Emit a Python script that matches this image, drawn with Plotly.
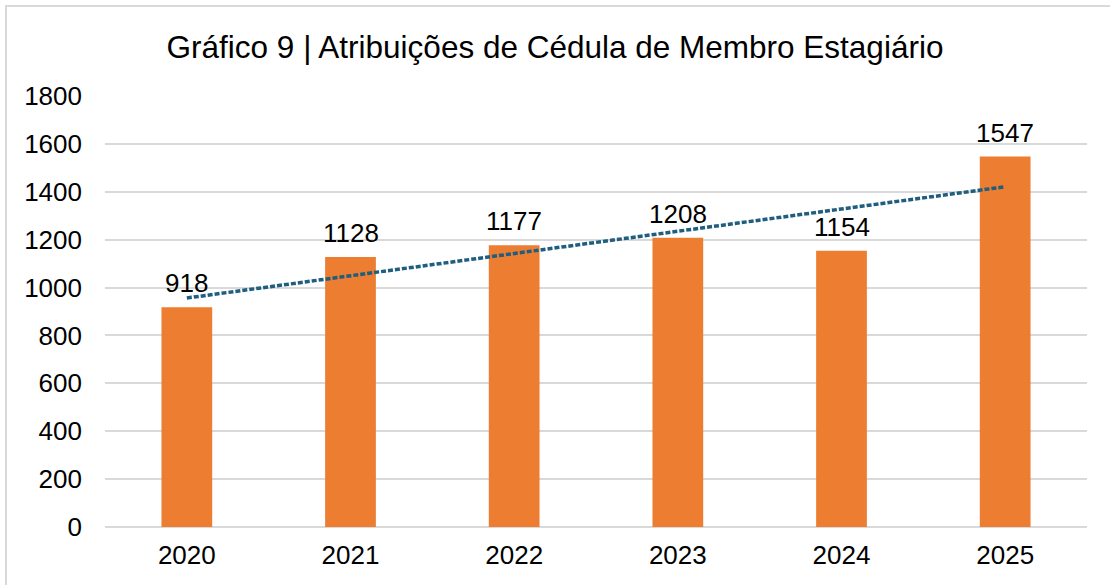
import numpy as np
import plotly.graph_objects as go

years = ["2020", "2021", "2022", "2023", "2024", "2025"]
values = [918, 1128, 1177, 1208, 1154, 1547]
y_ticks = [0, 200, 400, 600, 800, 1000, 1200, 1400, 1600, 1800]
title_text = "Gráfico 9 | Atribuições de Cédula de Membro Estagiário"

# linear trendline (least squares, like Excel)
xi = np.arange(len(values))
slope, intercept = np.polyfit(xi, values, 1)
trend = slope * xi + intercept

FONT = "Liberation Sans, Arial, sans-serif"
FS = 26

fig = go.Figure()
fig.add_trace(go.Bar(
    x=years, y=values,
    marker=dict(color="#ED7D31", line=dict(width=0)),
    width=0.31,
    showlegend=False,
))
fig.add_trace(go.Scatter(
    x=years, y=trend, mode="lines",
    line=dict(color="#1F5E7E", width=3.5, dash="5px,2px"),
    showlegend=False, hoverinfo="skip",
))
# data labels (category index positions on the category axis)
for i, v in enumerate(values):
    fig.add_annotation(x=i, y=v, xref="x", yref="y", text=str(v), showarrow=False,
                       yanchor="middle", yshift=24,
                       font=dict(family=FONT, size=FS, color="#000000"))

fig.update_layout(
    width=1110, height=585,
    margin=dict(l=105, r=23, t=96, b=58),
    paper_bgcolor="white", plot_bgcolor="white",
    title=dict(text=title_text, x=0.5, xanchor="center", y=1 - 47/585, yanchor="middle",
               font=dict(family=FONT, size=31.5, color="#000000")),
    font=dict(family=FONT, color="#000000"),
    xaxis=dict(
        type="category", categoryorder="array", categoryarray=years,
        range=[-0.5, len(years) - 0.5],
        showgrid=False, showline=False, zeroline=False, ticks="",
        tickfont=dict(family=FONT, size=FS, color="#000000"),
        ticklabelstandoff=10,
    ),
    yaxis=dict(
        range=[0, 1800], tickvals=y_ticks, ticktext=[str(t) for t in y_ticks],
        showgrid=True, gridcolor="#D9D9D9", gridwidth=1.5,
        zeroline=True, zerolinecolor="#D9D9D9", zerolinewidth=1.5,
        showline=False, ticks="",
        tickfont=dict(family=FONT, size=FS, color="#000000"),
        ticklabelstandoff=22,
    ),
)
# outer light border around the chart area (as in the reference)
fig.add_shape(type="rect", xref="paper", yref="paper",
              x0=(6 - 105) / 982, x1=(1130 - 105) / 982,
              y0=(527 - 620) / 431, y1=(527 - 6) / 431,
              line=dict(color="#D9D9D9", width=2), fillcolor="rgba(0,0,0,0)", layer="above")

fig.write_html("out.html", config={"displayModeBar": False},
               post_script="document.body.style.margin='0';")
